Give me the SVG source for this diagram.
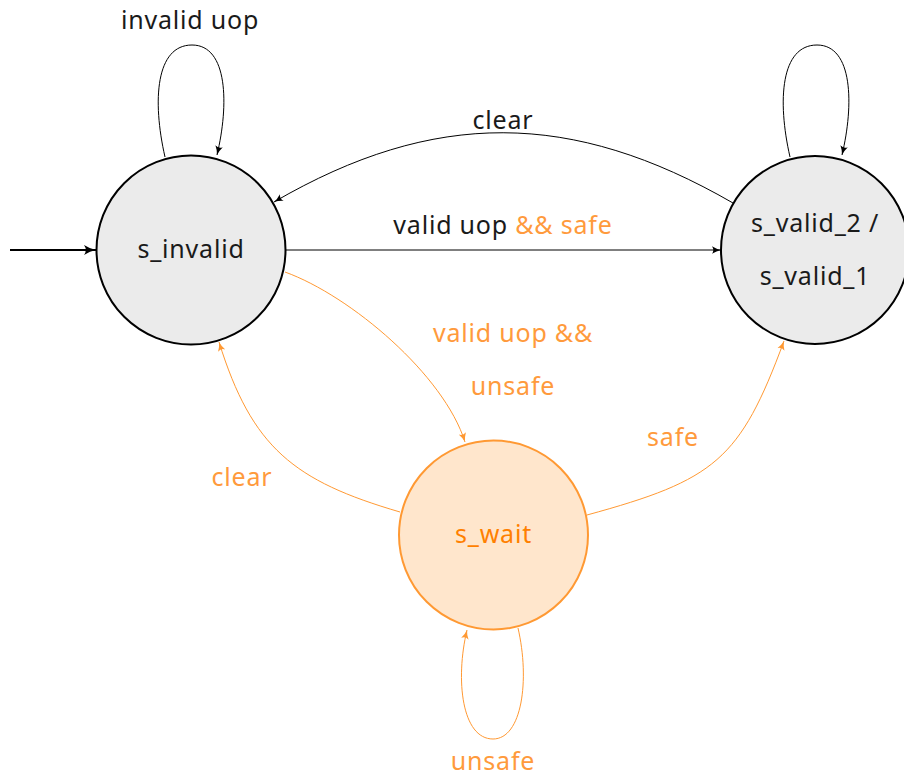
<svg xmlns="http://www.w3.org/2000/svg" width="904" height="776" viewBox="0 0 904 776">
  <style>
    text { font-family: "Noto Sans", "Open Sans", "DejaVu Sans", sans-serif; font-size: 25px; letter-spacing: 0.8px; text-anchor: middle; }
    .dark { fill: #1a1a1a; }
    .warm { fill: #ff9a3c; }
    .state { fill: #ebebeb; stroke: #000; stroke-width: 2; }
    .wait { fill: #ffe6cc; stroke: #ff9933; stroke-width: 2; }
    .edge { fill: none; stroke: #000; stroke-width: 1; marker-end: url(#tipDark); }
    .edge-o { fill: none; stroke: #ff9933; stroke-width: 1; marker-end: url(#tipWarm); }
  </style>
  <defs>
    <marker id="tipDark" viewBox="0 0 10 10" refX="10" refY="5" markerWidth="9" markerHeight="9" markerUnits="userSpaceOnUse" orient="auto">
      <path d="M0,0.8 Q5,4 10,5 Q5,6 0,9.2 Q3,5 0,0.8 z" fill="#000"/>
    </marker>
    <marker id="tipWarm" viewBox="0 0 10 10" refX="10" refY="5" markerWidth="9" markerHeight="9" markerUnits="userSpaceOnUse" orient="auto">
      <path d="M0,0.8 Q5,4 10,5 Q5,6 0,9.2 Q3,5 0,0.8 z" fill="#ff9933"/>
    </marker>
    <marker id="tipStart" viewBox="0 0 10 10" refX="10" refY="5" markerWidth="12" markerHeight="12" markerUnits="userSpaceOnUse" orient="auto">
      <path d="M0,0.8 Q5,4 10,5 Q5,6 0,9.2 Q3,5 0,0.8 z" fill="#000"/>
    </marker>
  </defs>

  <!-- transitions -->
  <g id="connectors">
    <!-- initial transition -->
    <path d="M10,250 L96,250" fill="none" stroke="#000" stroke-width="2" marker-end="url(#tipStart)"/>
    <!-- s_invalid self loop -->
    <path class="edge" d="M165,157 C152,100 156,45 192,45 C228,45 229,105 217,155"/>
    <!-- s_valid self loop -->
    <path class="edge" d="M790,157 C777,100 781,45 817,45 C853,45 854,105 842,155"/>
    <!-- s_valid -> s_invalid (clear) -->
    <path class="edge" d="M733,203 C572,110 434,109 274,202"/>
    <!-- s_invalid -> s_valid -->
    <path class="edge" d="M286,250 L721,250"/>
    <!-- s_invalid -> s_wait -->
    <path class="edge-o" d="M285,272 C351,296 444,375 465,442"/>
    <!-- s_wait -> s_invalid (clear) -->
    <path class="edge-o" d="M400,512 C294,481 252,448 219,342"/>
    <!-- s_wait -> s_valid -->
    <path class="edge-o" d="M587,515 C715,480 740,460 784,341"/>
    <!-- s_wait self loop -->
    <path class="edge-o" d="M518,628 C530,680 522,739 493,739 C462,739 455,680 467,630"/>
  </g>

  <g id="labels">
    <text class="dark" x="190" y="29">invalid uop</text>
    <text class="dark" x="503" y="129">clear</text>
    <text x="503" y="234"><tspan class="dark">valid uop </tspan><tspan class="warm">&amp;&amp; safe</tspan></text>
    <text class="warm" x="513" y="342">valid uop &amp;&amp;</text>
    <text class="warm" x="513" y="395">unsafe</text>
    <text class="warm" x="242" y="486">clear</text>
    <text class="warm" x="673" y="446">safe</text>
    <text class="warm" x="493" y="770">unsafe</text>
  </g>

  <g id="s_invalid">
    <circle class="state" cx="191" cy="250" r="94.5"/>
    <text class="dark" x="191" y="258">s_invalid</text>
  </g>

  <g id="s_valid">
    <circle class="state" cx="815" cy="250" r="94"/>
    <text class="dark" x="815" y="232">s_valid_2 /</text>
    <text class="dark" x="815" y="285">s_valid_1</text>
  </g>

  <g id="s_wait">
    <circle class="wait" cx="493.5" cy="535" r="94.5"/>
    <text x="493.5" y="543" fill="#ff8000">s_wait</text>
  </g>
</svg>
